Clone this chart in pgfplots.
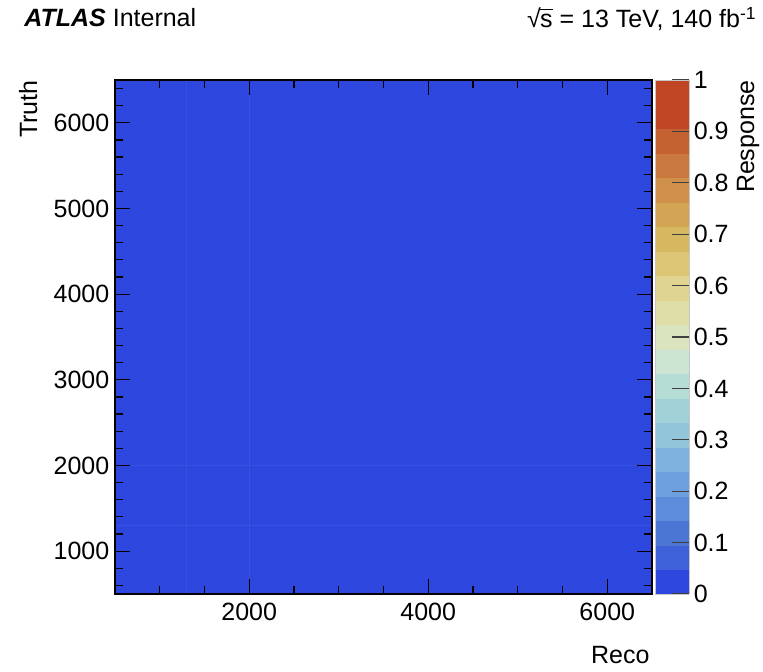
\documentclass[border=0pt]{standalone}
\usepackage{fontspec}
\setmainfont{Liberation Sans}
\usepackage{pgfplots}
\usepackage{pgfplotstable}
\pgfplotsset{compat=1.18}

\definecolor{binedge}{RGB}{55,82,225}

% response matrix, bin edges 500/1300/2000/6500 on both axes (last row/col only closes the cells)
\pgfplotstableread{
x    y    z
500  500  0
1300 500  0
2000 500  0
6500 500  0
500  1300 0
1300 1300 0
2000 1300 0
6500 1300 0
500  2000 0
1300 2000 0
2000 2000 0
6500 2000 0
500  6500 0
1300 6500 0
2000 6500 0
6500 6500 0
}\responsetable

\begin{document}
\fontsize{12.5}{15}\selectfont
\begin{tikzpicture}
\begin{axis}[
  name=main, at={(0,0)}, anchor=south west,
  scale only axis, width=268.5pt, height=257pt,
  xmin=500, xmax=6500, ymin=500, ymax=6500,
  xtick={2000,4000,6000}, minor xtick={500,1000,...,6500},
  ytick={1000,2000,3000,4000,5000,6000}, minor ytick={600,800,...,6400},
  major tick length=7.5pt, minor tick length=4pt,
  tick align=inside, tick style={black, line width=0.6pt},
  axis line style={line width=0.6pt},
  scaled ticks=false,
  /pgf/number format/1000 sep={},
  /pgf/number format/assume math mode=true,
  yticklabel style={xshift=1.5pt},
  xlabel={Reco}, ylabel={Truth},
  every axis x label/.style={at={(axis description cs:0.996,-0.136)}, anchor=base east, inner sep=0pt},
  every axis y label/.style={at={(axis description cs:-0.145,1)}, rotate=90, anchor=base east, inner sep=0pt},
  axis on top,
  colormap={response}{
    rgb255=(45,70,222) rgb255=(62,96,216) rgb255=(76,118,212) rgb255=(93,140,218)
    rgb255=(110,160,224) rgb255=(128,178,224) rgb255=(146,196,218) rgb255=(162,208,215)
    rgb255=(182,220,214) rgb255=(204,228,210) rgb255=(218,228,190) rgb255=(224,222,168)
    rgb255=(224,212,146) rgb255=(220,198,118) rgb255=(214,184,96) rgb255=(210,164,84)
    rgb255=(206,144,74) rgb255=(202,122,62) rgb255=(197,98,50) rgb255=(192,70,38)
    rgb255=(192,70,38)},
  colormap access=piecewise constant,
  point meta min=0, point meta max=1,
  colorbar,
  colorbar style={
    at={(parent axis.north east)}, anchor=north west, xshift=-7pt,
    width=17pt,
    ytick={0,0.1,0.2,0.3,0.4,0.5,0.6,0.7,0.8,0.9,1},
    ytick pos=right, yticklabel pos=right,
    major tick length=8.3pt, tick align=inside,
    tick style={black!75, line width=0.6pt},
    axis line style={draw=gray!45, line width=0.4pt},
    /pgf/number format/assume math mode=true,
    yticklabel style={xshift=-2pt},
    ylabel={Response},
    every axis y label/.style={at={(axis description cs:2.91,1)}, rotate=90, anchor=base east, inner sep=0pt},
  },
]
\addplot[surf, shader=faceted, faceted color=binedge, line width=0.5pt,
  mesh/cols=4, point meta=explicit]
  table[x=x, y=y, meta=z] {\responsetable};
\end{axis}
\node[anchor=base west, inner sep=0pt] at (-45.5pt,283.5pt) {\textbf{\textit{ATLAS}} Internal};
\node[anchor=base east, inner sep=0pt] at (321pt,283pt) {√\kern-0.03em\rlap{\rule[0.7em]{0.5em}{0.055em}}s = 13 TeV, 140 fb\textsuperscript{-1}};
\pgfresetboundingbox
\path[use as bounding box] (-57.5pt,-39pt) rectangle (324pt,297pt);
\end{tikzpicture}
\end{document}
